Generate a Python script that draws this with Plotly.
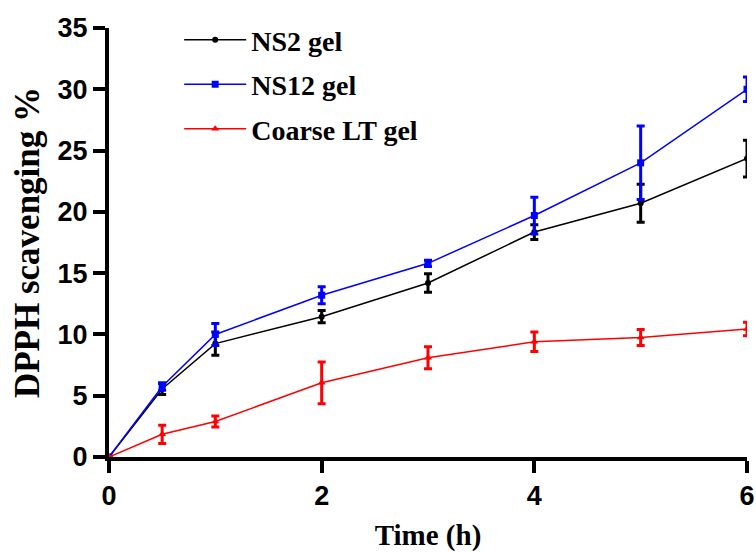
import plotly.graph_objects as go

time_h = [0, 0.5, 1, 2, 3, 4, 5, 6]

ns2_vals = [0, 5.55, 9.25, 11.45, 14.2, 18.35, 20.7, 24.35]
ns2_err = [0, 0.45, 0.95, 0.5, 0.75, 0.6, 1.55, 1.5]

ns12_vals = [0, 5.75, 10.0, 13.2, 15.8, 19.7, 24.0, 30.0]
ns12_err = [0, 0.3, 0.9, 0.7, 0.25, 1.5, 3.0, 1.0]

coarse_vals = [0, 1.85, 2.9, 6.05, 8.1, 9.4, 9.75, 10.45]
coarse_err = [0, 0.75, 0.45, 1.7, 0.9, 0.8, 0.65, 0.55]

series_names = ["NS2 gel", "NS12 gel", "Coarse LT gel"]
x_ticks = [0, 2, 4, 6]
y_ticks = [0, 5, 10, 15, 20, 25, 30, 35]

fig = go.Figure()

def add(name, vals, errs, color, symbol, msize):
    fig.add_trace(go.Scatter(
        x=time_h, y=vals, name="<b>" + name + "</b>", mode="lines+markers",
        legendgroup=name,
        line=dict(color=color, width=1.5),
        marker=dict(color=color, symbol=symbol, size=msize),
        error_y=dict(type="data", array=errs, visible=True,
                     color=color, thickness=3, width=4),
    ))

add(series_names[0], ns2_vals, ns2_err, "#000000", "circle", 6)
add(series_names[1], ns12_vals, ns12_err, "#0000ff", "square", 7)
add(series_names[2], coarse_vals, coarse_err, "#ff0000", "triangle-up", 7)

fig.update_layout(
    width=756, height=552,
    margin=dict(l=109, r=9, t=28, b=95),
    paper_bgcolor="white", plot_bgcolor="white",
    showlegend=True,
    legend=dict(
        x=0.11, y=1.03, xanchor="left", yanchor="top",
        font=dict(family="Liberation Serif", size=28, color="black"),
        bgcolor="rgba(0,0,0,0)", tracegroupgap=5,
        itemwidth=62,
    ),
    xaxis=dict(
        range=[0, 6], tickvals=x_ticks, ticktext=[str(v) for v in x_ticks],
        showgrid=False, zeroline=False, automargin=False,
        showline=True, linecolor="black", linewidth=4,
        ticks="outside", ticklen=12, tickwidth=4, tickcolor="black",
        tickfont=dict(family="Liberation Sans", size=27, color="black", weight="bold"),
        title=dict(text="<b>Time (h)</b>", standoff=20,
                   font=dict(family="Liberation Serif", size=29, color="black")),
    ),
    yaxis=dict(
        range=[0, 35], tickvals=y_ticks, ticktext=[str(v) for v in y_ticks],
        showgrid=False, zeroline=False, automargin=False,
        showline=True, linecolor="black", linewidth=4,
        ticks="outside", ticklen=12, tickwidth=4, tickcolor="black",
        tickfont=dict(family="Liberation Sans", size=27, color="black", weight="bold"),
        title=dict(text="<b>DPPH scavenging %</b>", standoff=8,
                   font=dict(family="Liberation Serif", size=35, color="black")),
    ),
)

fig.write_html("out.html")
